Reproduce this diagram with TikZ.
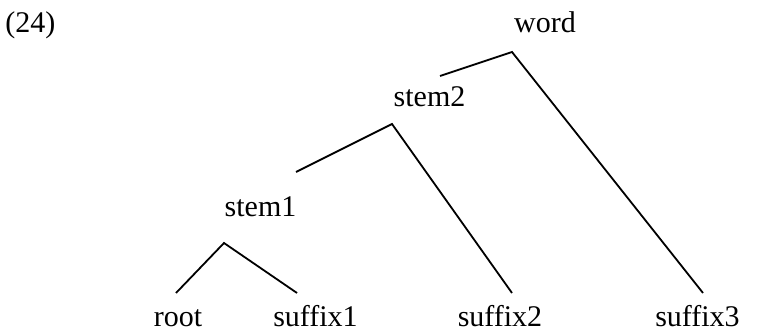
\documentclass[tikz,border=0pt]{standalone}
\usepackage{fontspec}
\setmainfont{Liberation Serif}
\begin{document}
\begin{tikzpicture}[x=0.5pt,y=-0.5pt,
  lbl/.style={inner sep=0pt,anchor=base,font=\fontsize{15}{18}\selectfont},
  branch/.style={line width=0.9pt,line cap=butt}]
\useasboundingbox (0,0) rectangle (770,331);
\node[lbl,anchor=base west] (num) at (5,33) {(24)};
\node[lbl] (word) at (545,33) {word};
\node[lbl] (stemtwo) at (429.5,107) {stem2};
\node[lbl] (stemone) at (260.5,217) {stem1};
\node[lbl] (root) at (178,326) {root};
\node[lbl] (sufone) at (315.5,326) {suffix1};
\node[lbl] (suftwo) at (500,326) {suffix2};
\node[lbl] (sufthree) at (697.5,326) {suffix3};
\coordinate (wA) at (512,52);
\coordinate (wL) at (440,76);
\coordinate (wR) at (703,293);
\coordinate (sA) at (392,124);
\coordinate (sL) at (296,172);
\coordinate (sR) at (512,293);
\coordinate (tA) at (224,243);
\coordinate (tL) at (176,293);
\coordinate (tR) at (297,293);
\draw[branch] (wL) -- (wA) -- (wR);
\draw[branch] (sL) -- (sA) -- (sR);
\draw[branch] (tL) -- (tA) -- (tR);
\end{tikzpicture}
\end{document}
